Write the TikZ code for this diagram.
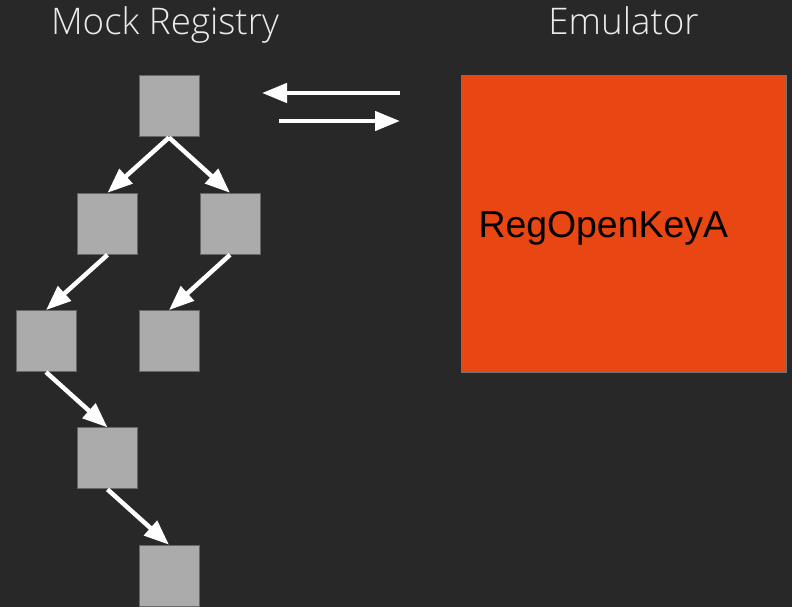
\documentclass[tikz,border=0pt]{standalone}
\usepackage{fontspec}
\setmainfont{Liberation Sans}
\newfontfamily\titlefont{Open Sans Light}
\usetikzlibrary{arrows.meta}
\definecolor{bgdark}{HTML}{282828}
\definecolor{keygray}{HTML}{ABABAB}
\definecolor{emuorange}{HTML}{E84612}
\tikzstyle{regkey}=[rectangle,draw=black!60,fill=keygray,line width=1pt,minimum width=60pt,minimum height=61pt,inner sep=0pt]
\tikzstyle{emubox}=[rectangle,draw=black!55,fill=emuorange,line width=1pt,minimum width=325pt,minimum height=296pt,text width=290pt,inner xsep=17.5pt,text depth=0pt,align=left,font=\fontsize{37.4}{45}\selectfont]
\tikzstyle{caption}=[text=white!92!black,font=\titlefont\fontsize{36.7}{44}\selectfont,anchor=base,inner sep=0pt]
\tikzstyle{link}=[-{Triangle[length=25pt,width=19pt]},white,line width=4.5pt]

\begin{document}
\begin{tikzpicture}[x=1pt,y=1pt,auto,node distance=117.3pt]
      \fill [bgdark] (0,0) rectangle (792,-607);
      \useasboundingbox (0,0) rectangle (792,-607);

      \node [regkey] (root) at (169,-106.5) {};
      \node [regkey] (keya) [below of=root, xshift=-61.5pt] {};
      \node [regkey] (keyb) [below of=root, xshift=61pt] {};
      \node [regkey] (keyc) [below of=keya, xshift=-61.5pt] {};
      \node [regkey] (keyd) [below of=keyb, xshift=-61pt] {};
      \node [regkey] (keye) [below of=keyc, xshift=61.5pt] {};
      \node [regkey] (keyf) [below of=keye, xshift=61.5pt] {};
      \draw [link] (root.south) -- (keya.north);
      \draw [link] (root.south) -- (keyb.north);
      \draw [link] (keya.south) -- (keyc.north);
      \draw [link] (keyb.south) -- (keyd.north);
      \draw [link] (keyc.south) -- (keye.north);
      \draw [link] (keye.south) -- (keyf.north);

      \node [emubox] (emulator) at (623.5,-224) {RegOpenKeyA};
      \node [caption] (regtitle) at (165,-35) {Mock Registry};
      \node [caption] (emutitle) at (emulator.center |- regtitle.base) {Emulator};

      \coordinate (replyfrom) at (400,-93);
      \coordinate (replyto) at (262,-93);
      \coordinate (queryfrom) at (279,-121);
      \coordinate (queryto) at (400,-121);
      \draw [link] (replyfrom) -- (replyto);
      \draw [link] (queryfrom) -- (queryto);
    \end{tikzpicture}
\end{document}
